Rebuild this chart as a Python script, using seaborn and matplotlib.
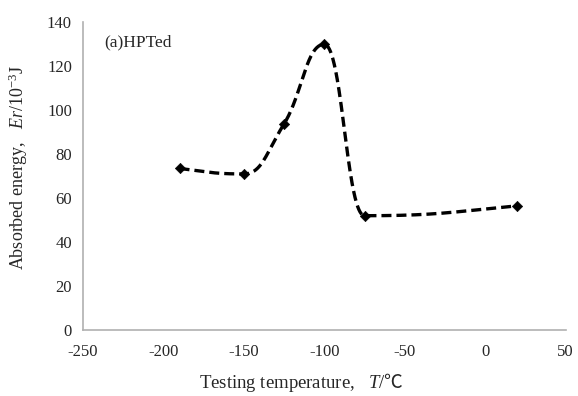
import numpy as np
import pandas as pd
import matplotlib
matplotlib.use("Agg")
import matplotlib.pyplot as plt
import seaborn as sns

# values
temperature = [-190, -150, -125, -100, -75, 20]
energy = [73.5, 71, 93.8, 130, 52, 56.5]

x_ticks = [-250, -200, -150, -100, -50, 0, 50]
y_ticks = [0, 20, 40, 60, 80, 100, 120, 140]


def smooth_curve(xs, ys, a=0.45, n=80):
    """Bezier through the points, flat at local extrema (a = handle share)."""
    x = np.asarray(xs, float)
    y = np.asarray(ys, float)
    h = np.diff(x)
    d = np.diff(y) / h
    m = np.zeros_like(y)
    for i in range(1, len(x) - 1):
        if d[i - 1] * d[i] > 0:
            m[i] = (y[i + 1] - y[i - 1]) / (x[i + 1] - x[i - 1])
    m[0] = (3 * d[0] - m[1]) / 2
    m[-1] = (3 * d[-1] - m[-2]) / 2
    t = np.linspace(0, 1, n)[:, None]
    pts = []
    for i in range(len(x) - 1):
        p1 = np.array([x[i], y[i]])
        p2 = np.array([x[i + 1], y[i + 1]])
        c1 = p1 + a * h[i] * np.array([1, m[i]])
        c2 = p2 - a * h[i] * np.array([1, m[i + 1]])
        seg = (1 - t) ** 3 * p1 + 3 * (1 - t) ** 2 * t * c1 \
            + 3 * (1 - t) * t ** 2 * c2 + t ** 3 * p2
        pts.append(seg)
    pts = np.vstack(pts)
    return pts[:, 0], pts[:, 1]


sns.set_style("white")
plt.rcParams['font.family'] = ['Liberation Serif', 'DejaVu Serif']
plt.rcParams['mathtext.fontset'] = 'custom'
plt.rcParams['mathtext.rm'] = 'Liberation Serif'
plt.rcParams['mathtext.it'] = 'Liberation Serif:italic'
plt.rcParams['mathtext.sf'] = 'Noto Sans CJK JP'

fig = plt.figure(figsize=(5.78, 3.96), dpi=100)
ax = fig.add_axes([0.1436, 0.1667, 0.835, 0.777])

cx, cy = smooth_curve(temperature, energy)
curve = pd.DataFrame({"T": cx, "E": cy})
sns.lineplot(data=curve, x="T", y="E", sort=False, color="black",
             linewidth=2.4, linestyle=(0, (3.0, 1.5)), ax=ax)
sns.scatterplot(x=temperature, y=energy, marker="D", s=28, color="black",
                edgecolor="black", zorder=3, ax=ax)

ax.set_xlim(-250, 50)
ax.set_ylim(0, 140)
ax.set_xticks(x_ticks)
ax.set_yticks(y_ticks)
ax.set_xticklabels([str(v) for v in x_ticks])
ax.tick_params(axis="both", direction="out", length=4, width=1,
               color="#b0b0b0", labelsize=12)
ax.tick_params(axis="x", pad=6)
ax.tick_params(axis="y", pad=4)
for side in ["top", "right"]:
    ax.spines[side].set_visible(False)
for side in ["left", "bottom"]:
    ax.spines[side].set_color("#b0b0b0")
    ax.spines[side].set_linewidth(1.2)

ax.set_xlabel("Testing temperature,   $\\mathit{T}$/$\\mathsf{\u2103}$", fontsize=13.5)
ax.xaxis.set_label_coords(0.453, -0.132)
ax.set_ylabel("Absorbed energy,   $\\mathit{Er}$/10$^{-3}$J", fontsize=13)
ax.yaxis.set_label_coords(-0.11, 0.53)
ax.text(0.045, 0.935, "(a)HPTed", transform=ax.transAxes, fontsize=12.5,
        va="center", ha="left")

fig.savefig("out.png", dpi=100)
